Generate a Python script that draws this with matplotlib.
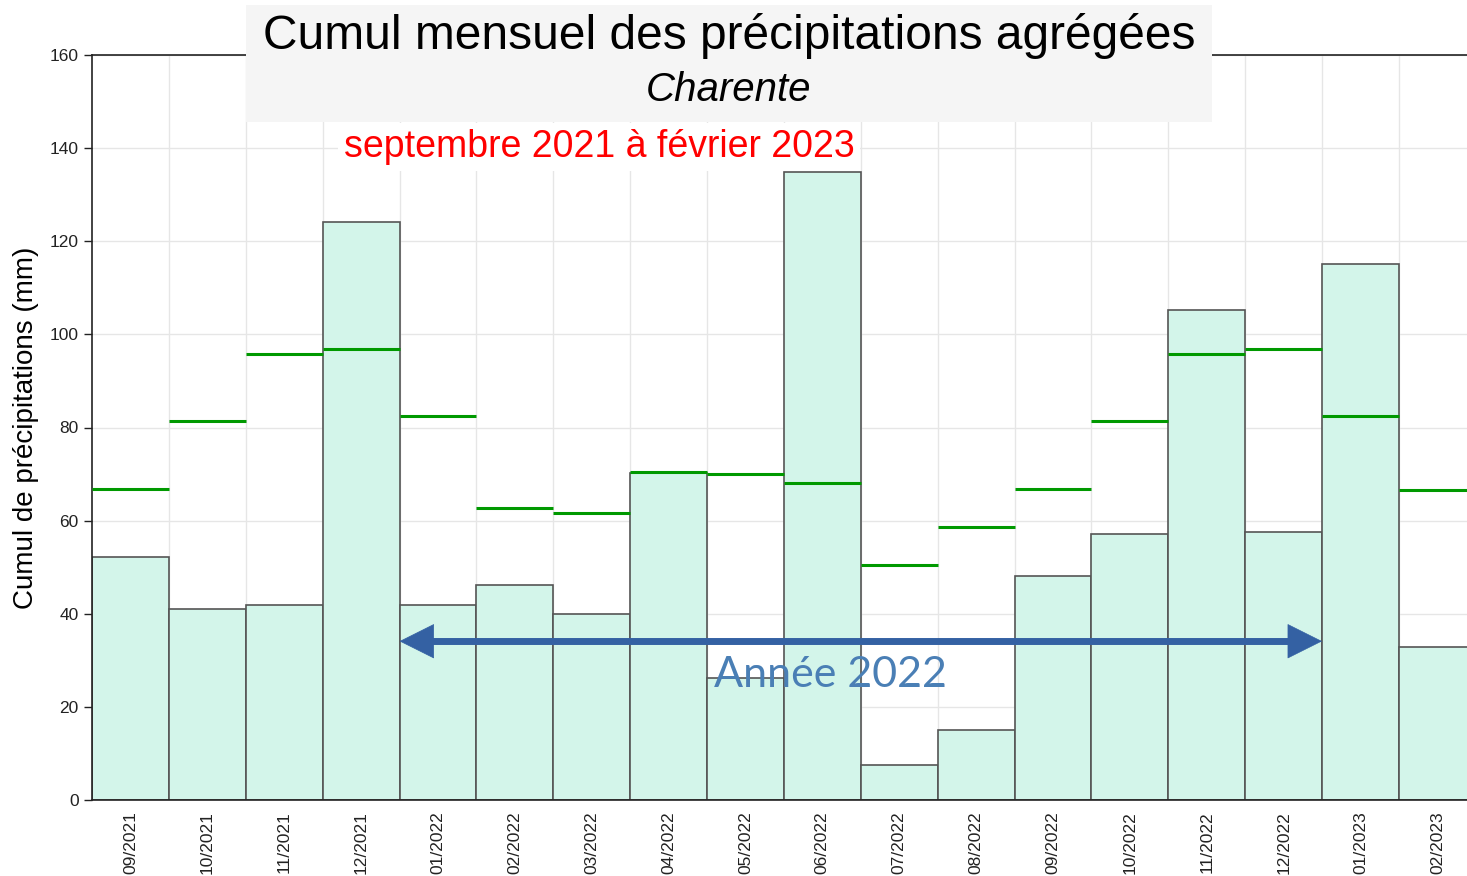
import matplotlib.pyplot as plt
from matplotlib.patches import Rectangle

plt.rcParams['font.family'] = ['Liberation Sans', 'DejaVu Sans']

# ---- données (mm) ----
mois = ['09/2021', '10/2021', '11/2021', '12/2021', '01/2022', '02/2022',
        '03/2022', '04/2022', '05/2022', '06/2022', '07/2022', '08/2022',
        '09/2022', '10/2022', '11/2022', '12/2022', '01/2023', '02/2023']
cumul = [52.2, 41.0, 41.9, 124.1, 41.9, 46.2, 39.9, 70.2, 26.2, 134.9,
         7.5, 15.0, 48.1, 57.1, 105.2, 57.6, 115.1, 32.9]
normale = [66.8, 81.4, 95.8, 96.9, 82.5, 62.7, 61.6, 70.4, 70.0, 68.1,
           50.5, 58.6, 66.8, 81.4, 95.8, 96.9, 82.5, 66.6]

W, H = 1467, 876
fig = plt.figure(figsize=(W / 100, H / 100), dpi=100)
ax = fig.add_axes([92 / W, 1 - 800 / H, (18 * 76.88) / W, 745 / H])

x = list(range(len(mois)))
ax.bar(x, cumul, width=1.0, color='#d3f5ea', edgecolor='#555555',
       linewidth=1.2, zorder=2)
ax.hlines(normale, [i - 0.5 for i in x], [i + 0.5 for i in x],
          colors='#009900', linewidth=2.2, zorder=3)

ax.set_xlim(-0.5, 17.5)
ax.set_ylim(0, 160)
ax.set_yticks(range(0, 161, 20))
ax.set_xticks(x)
ax.set_xticklabels(mois, rotation=90, fontsize=12.5, color='#222222')
ax.tick_params(axis='x', length=0, pad=8)
ax.tick_params(axis='y', length=6, width=1, labelsize=12.5, colors='#222222')
ax.set_xticks([i + 0.5 for i in x], minor=True)
ax.tick_params(axis='x', which='minor', length=0)
ax.grid(True, which='minor', axis='x', color='#e6e6e6', linewidth=1, zorder=0)
ax.grid(True, which='major', axis='y', color='#e6e6e6', linewidth=1, zorder=0)
ax.set_axisbelow(True)
ax.spines['right'].set_visible(False)
for s in ['left', 'bottom', 'top']:
    ax.spines[s].set_color('#222222')
    ax.spines[s].set_linewidth(1.2)

ax.set_ylabel('Cumul de précipitations (mm)', fontsize=20, labelpad=8)

# flèche "Année 2022"
y_fl = 34.1
ax.plot([3.8, 15.2], [y_fl, y_fl], color='#3461a3', lw=5, zorder=5,
        solid_capstyle='butt')
for debut, fin in [(4.5, 3.5), (14.5, 15.5)]:
    ax.annotate('', xy=(fin, y_fl), xytext=(debut, y_fl),
                arrowprops=dict(arrowstyle='-|>,head_length=1.2,head_width=0.6',
                                mutation_scale=20, lw=0.5, color='#3461a3',
                                shrinkA=0, shrinkB=0), zorder=5)
ax.text(9.1, 26.8, 'Année 2022', fontsize=31, color='#4a7fb5',
        family=['Lato', 'DejaVu Sans'], ha='center', va='center', zorder=6)

# titre
fig.patches.append(Rectangle((246 / W, 1 - 122 / H), (1212 - 246) / W, 117 / H,
                             transform=fig.transFigure, facecolor='#f5f5f5',
                             edgecolor='none', zorder=10))
fig.text(729 / W, 1 - 36 / H, 'Cumul mensuel des précipitations agrégées',
         fontsize=34.5, ha='center', va='center', zorder=11)
fig.text(729 / W, 1 - 90 / H, 'Charente', fontsize=29, style='italic',
         ha='center', va='center', zorder=11)
fig.text(599 / W, 1 - 147 / H, 'septembre 2021 à février 2023', fontsize=27,
         color='#ff0000', ha='center', va='center', zorder=11,
         bbox=dict(facecolor='white', edgecolor='none', pad=4))

fig.savefig('out.png', dpi=100)
